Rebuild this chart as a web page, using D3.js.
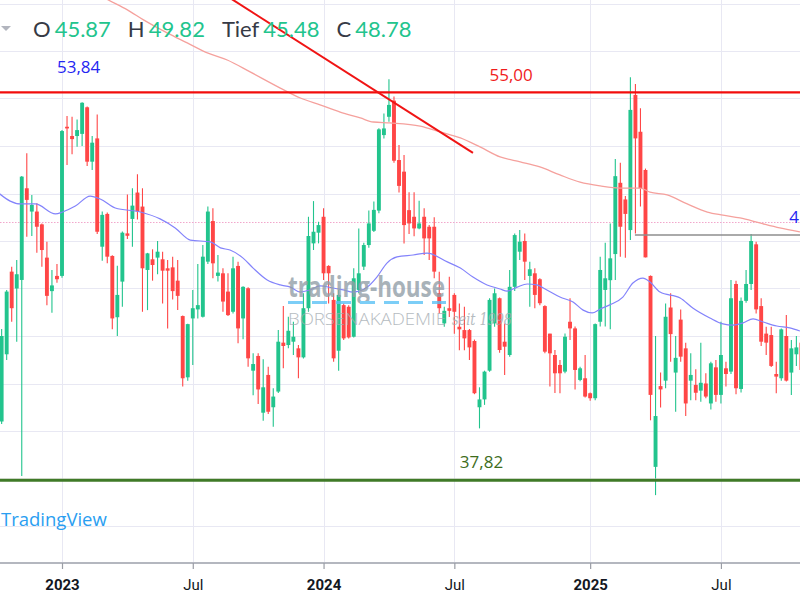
<!DOCTYPE html>
<html>
<head>
<meta charset="utf-8">
<script src="https://cdn.jsdelivr.net/npm/d3@7/dist/d3.min.js"></script>
<style>
html,body{margin:0;padding:0;background:#ffffff;overflow:hidden;}
svg{display:block;}
</style>
</head>
<body>
<svg id="chart" width="800" height="600"></svg>
<script>
// ---------------- data ----------------
const week0 = "2023-01-02";      // Monday of week index 0
const firstCandleWeek = -12;     // first visible weekly candle (2022-10-10)

const opens = [
40.40,43.23,46.71,46.00,46.36,50.22,49.24,49.24,48.70,47.30,
45.89,46.53,46.53,52.81,52.42,52.42,52.51,53.63,51.34,52.32,
47.76,49.14,47.37,44.79,46.29,48.32,48.93,50.04,49.45,46.78,
47.23,47.30,47.23,46.85,46.89,46.33,44.84,42.26,44.74,45.12,
44.81,47.13,48.84,46.53,46.64,45.87,45.02,46.95,44.74,46.01,
42.54,43.16,40.77,42.36,41.00,41.66,43.72,43.62,43.76,43.48,
43.10,45.17,47.90,48.35,49.02,46.95,45.52,43.38,45.30,45.23,
43.97,45.94,46.92,47.83,48.43,49.28,52.46,53.23,53.91,51.41,
50.92,49.30,49.02,48.53,49.02,48.60,48.60,45.80,44.53,45.17,
45.73,44.39,44.25,44.25,43.79,41.00,41.33,42.54,44.53,45.59,
43.76,43.20,46.07,47.55,48.00,46.53,46.64,46.39,45.26,44.10,
43.20,42.78,42.50,44.60,44.32,42.15,42.22,41.59,41.38,44.60,
45.94,46.35,47.45,50.45,49.75,48.46,54.15,52.60,50.99,46.53,
38.49,41.89,42.12,45.20,42.46,44.69,43.48,42.12,41.94,41.70,
42.00,41.16,42.68,41.52,42.64,42.50,46.19,41.77,45.48,46.19,
47.86,45.26,44.10,44.04,42.40,42.22,44.00,42.46,43.23,43.72];
const highs = [
44.30,45.94,46.92,47.20,50.74,51.69,49.94,49.59,48.74,47.97,
46.78,47.03,52.67,53.26,53.23,53.12,53.84,53.66,52.42,53.33,
49.24,49.20,47.40,46.96,48.40,49.96,50.22,50.81,50.22,47.50,
47.65,48.00,47.55,47.20,47.34,47.20,44.86,44.52,45.94,47.03,
47.83,49.45,49.38,47.41,46.85,46.64,47.34,47.13,46.10,46.05,
43.27,43.27,43.02,42.71,41.80,44.25,45.26,44.81,44.60,43.62,
45.80,49.02,49.68,48.81,49.38,46.98,45.80,45.94,45.37,45.30,
46.85,48.53,47.93,49.28,49.66,52.75,53.37,54.81,54.08,52.04,
51.62,50.05,50.05,49.69,49.38,48.67,49.00,46.71,45.23,46.50,
45.80,45.37,45.23,44.30,43.85,41.84,42.54,45.59,46.00,45.62,
44.53,46.78,48.32,48.46,48.32,47.13,46.85,46.43,45.30,44.10,
43.41,42.99,44.11,45.59,44.40,42.71,43.20,41.62,44.53,47.34,
47.93,48.74,51.45,51.30,49.90,54.89,54.61,53.59,51.05,46.55,
44.00,42.46,45.37,45.80,44.00,45.12,43.72,43.27,42.60,43.72,
42.43,42.92,42.99,44.60,42.92,46.36,46.33,45.62,46.78,48.29,
47.97,45.59,44.39,44.39,42.92,44.32,44.88,43.83,44.00,44.28];
const lows = [
40.30,42.99,44.60,43.76,38.11,48.18,48.21,47.51,46.92,45.30,
44.98,46.24,46.45,51.20,51.65,51.97,52.00,51.16,50.99,48.29,
47.17,47.06,44.28,44.00,45.23,48.08,47.76,48.91,45.02,45.09,
46.33,46.60,45.37,44.32,45.54,45.09,41.87,42.12,42.78,44.74,
44.78,47.03,46.43,46.29,45.02,44.84,44.95,43.69,43.86,42.71,
41.51,41.14,40.43,40.72,40.18,41.60,42.64,43.48,43.20,42.22,
43.05,45.02,47.62,47.90,46.36,45.37,42.92,42.54,43.83,43.90,
43.94,45.80,46.78,47.72,48.38,49.17,52.32,53.02,51.30,50.04,
47.90,48.30,48.20,48.50,47.41,47.20,46.43,44.95,44.39,44.80,
44.10,43.40,43.40,42.99,41.55,40.11,41.10,42.50,44.39,43.30,
42.36,43.13,45.90,47.20,46.36,45.23,45.17,45.30,43.27,41.87,
41.60,41.59,42.43,43.83,41.75,42.10,41.41,41.27,41.30,44.40,
44.40,44.28,46.36,47.34,47.30,48.04,48.32,49.45,47.31,40.45,
37.30,40.99,41.80,42.92,40.81,42.92,40.63,41.30,41.30,41.23,
41.38,40.91,41.23,41.16,41.87,42.40,41.55,41.62,45.40,45.94,
44.95,43.58,43.20,42.70,41.59,42.12,42.08,41.52,42.74,42.50];
const closes = [
44.00,45.87,45.17,46.60,50.71,49.73,49.52,48.60,47.62,45.69,
46.13,46.39,52.63,52.74,52.29,52.67,53.82,51.34,52.14,48.39,
49.10,47.34,44.74,45.73,48.35,48.22,49.49,49.24,46.85,47.48,
46.99,47.55,46.75,46.75,45.89,45.69,42.22,44.50,45.17,45.30,
47.34,49.24,47.06,46.67,45.45,44.88,46.85,44.32,46.07,43.06,
42.82,41.75,41.84,40.81,41.45,43.76,43.58,44.22,43.97,43.10,
45.17,48.21,48.39,48.67,46.64,46.64,43.06,45.73,43.90,43.94,
46.43,46.64,47.83,48.74,49.31,52.70,52.74,53.73,51.38,50.32,
48.67,48.74,48.53,48.74,48.11,48.11,46.71,45.17,45.06,45.06,
45.02,44.28,43.90,43.52,41.59,41.33,42.50,45.52,45.80,43.41,
43.55,46.07,48.25,47.97,47.13,46.81,45.73,45.38,43.34,43.27,
42.43,42.43,43.97,44.32,42.57,42.64,41.45,41.38,44.50,46.78,
46.43,47.27,50.73,48.60,49.14,53.52,52.32,50.22,47.31,41.52,
40.63,41.75,44.81,44.08,43.08,43.13,41.16,42.36,41.61,42.03,
41.45,42.85,41.52,43.20,42.40,45.59,41.80,45.48,46.19,48.00,
45.12,43.76,43.72,42.74,42.29,44.28,42.12,43.48,43.52,42.57];

// moving averages (week index, value)
const blueMaWeeks = [-12.6,-10.3,-8.3,-5.3,-1.3,0.1,2.65,5.6,7.6,10.6,15.6,19.5,22.5,25.5,29.5,31.5,33.4,36,38,40.8,
  43.4,45.4,47.4,49.3,51.3,53.9,55.9,57.9,60.7,62.6,64.6,66.6,69.8,72.6,76.6,79.2,81.7,84.5,87.1,88.5,
  90.5,92.5,94.4,96.4,99,101.6,103.6,105.4,107,108.9,111.5,113.5,115.5,116.9,118.9,122.9,125.4,128.8,131.4,133.4,
  135.4,137.4,139.4,142.1,144.7,146.7];
const blueMaValues = [50.02,49.68,49.56,49.56,49.14,49.22,49.47,49.89,49.77,49.39,49.22,48.93,48.55,48.04,47.96,47.71,47.62,47.28,46.86,46.36,
  46.15,46.06,45.85,45.94,46.11,46.02,45.94,45.85,46.06,46.48,47.07,47.33,47.41,47.49,47.12,46.86,46.48,46.15,45.98,45.89,
  46.06,46.19,46.15,45.94,45.64,45.43,45.09,44.97,45.14,45.31,45.64,46.23,46.44,46.27,45.85,45.60,45.18,44.76,44.51,44.46,
  44.55,44.72,44.59,44.42,44.34,44.21];
const redMaWeeks = [5.6,9.2,13.0,16.2,20.9,24.9,28.9,32.85,37.4,43.4,47.4,51.3,55.3,59.3,61.9,65.2,71.2,75.2,79.2,83.1,
  87.1,91.1,95.0,99.0,103.0,107.0,110.9,114.9,116.9,120.3,124.3,128.3,131.4,134.8,138.7,142.7,146.7];
const redMaValues = [58.57,58.15,57.73,57.31,56.76,56.34,55.92,55.62,55.12,54.44,54.02,53.73,53.43,53.18,53.01,52.97,52.84,52.59,52.34,51.96,
  51.54,51.33,51.12,50.78,50.48,50.32,50.23,50.23,50.06,49.94,49.56,49.22,49.09,48.97,48.76,48.55,48.38];

// drawings
const trendWeeks = [30, 81.7];
const trendValues = [58.69, 51.71];
const levelValues = [54.26, 37.92];          // red resistance, green support
const greyLevelStartWeek = 113.9;
const greyLevelValue = 48.25;
const lastPrice = 48.78;

const annotTexts  = ["53,84", "55,00", "37,82", "4"];
const annotWeeks  = [3.3, 89.3, 83.4, 144.6];
const annotValues = [55.07, 54.74, 38.44, 48.76];

// axes
const gridValues = [36,38,40,42,44,46,48,50,52,54,56,58];
const tickDates  = ["2023-01-02","2023-07-03","2024-01-01","2024-07-01","2025-01-06","2025-07-07"];
const tickLabels = ["2023","Jul","2024","Jul","2025","Jul"];

// header legend
const headerKeys   = ["O","H","Tief","C"];
const headerValues = ["45.87","49.82","45.48","48.78"];

// ---------------- drawing ----------------
const W = 800, H = 600, plotBottom = 563;
const parse = d3.utcParse("%Y-%m-%d");
const t0 = parse(week0);
const wk = k => new Date(t0.getTime() + k * 7 * 864e5);
const x = d3.scaleUtc().domain([t0, parse("2025-07-07")]).range([62, 62 + 131 * 5.03]);
const y = d3.scaleLinear().domain([36, 58]).range([526, 3.5]);
const X = k => x(wk(k));

const UP = "#22c48d", DOWN = "#ff4646";

const svg = d3.select("#chart");
svg.append("rect").attr("width", W).attr("height", H).attr("fill", "#ffffff");
svg.append("defs").append("clipPath").attr("id", "plotClip")
  .append("rect").attr("x", 0).attr("y", 0).attr("width", W).attr("height", plotBottom);

// grid
const grid = svg.append("g").attr("stroke", "#e8e8f3").attr("stroke-width", 1);
grid.selectAll("line.h").data(gridValues).join("line").attr("class", "h")
  .attr("x1", 0).attr("x2", W)
  .attr("y1", d => Math.round(y(d)) + 0.5).attr("y2", d => Math.round(y(d)) + 0.5);
grid.selectAll("line.v").data(tickDates).join("line").attr("class", "v")
  .attr("y1", 0).attr("y2", plotBottom)
  .attr("x1", d => Math.round(x(parse(d))) + 0.5).attr("x2", d => Math.round(x(parse(d))) + 0.5);

const plot = svg.append("g").attr("clip-path", "url(#plotClip)");

// last price dotted line
plot.append("line").attr("x1", 0).attr("x2", W)
  .attr("y1", y(lastPrice)).attr("y2", y(lastPrice))
  .attr("stroke", "#f2a7cc").attr("stroke-width", 1.2).attr("stroke-dasharray", "1.5,1.5");

// candles
const candles = opens.map((o, i) => ({ k: firstCandleWeek + i, o, h: highs[i], l: lows[i], c: closes[i] }));
const cg = plot.append("g");
cg.selectAll("line").data(candles).join("line")
  .attr("x1", d => X(d.k)).attr("x2", d => X(d.k))
  .attr("y1", d => y(d.h)).attr("y2", d => y(d.l))
  .attr("stroke", d => d.c >= d.o ? UP : DOWN).attr("stroke-width", 1.1);
const bw = 3.9;
cg.selectAll("rect").data(candles).join("rect")
  .attr("x", d => X(d.k) - bw / 2).attr("width", bw)
  .attr("y", d => y(Math.max(d.o, d.c)))
  .attr("height", d => Math.max(1, y(Math.min(d.o, d.c)) - y(Math.max(d.o, d.c))))
  .attr("fill", d => d.c >= d.o ? UP : DOWN);

// moving averages
const maLine = d3.line().x(d => X(d[0])).y(d => y(d[1])).curve(d3.curveMonotoneX);
plot.append("path").datum(redMaWeeks.map((w, i) => [w, redMaValues[i]]))
  .attr("d", maLine).attr("fill", "none").attr("stroke", "#f5a19d").attr("stroke-width", 1.3);
plot.append("path").datum(blueMaWeeks.map((w, i) => [w, blueMaValues[i]]))
  .attr("d", maLine).attr("fill", "none").attr("stroke", "#8383fb").attr("stroke-width", 1.2);

// horizontal levels
plot.append("line").attr("x1", 0).attr("x2", W)
  .attr("y1", y(levelValues[0])).attr("y2", y(levelValues[0]))
  .attr("stroke", "#f20d0d").attr("stroke-width", 2.4);
plot.append("line").attr("x1", 0).attr("x2", W)
  .attr("y1", y(levelValues[1]) - 1.5).attr("y2", y(levelValues[1]) - 1.5)
  .attr("stroke", "#a9b99e").attr("stroke-width", 1);
plot.append("line").attr("x1", 0).attr("x2", W)
  .attr("y1", y(levelValues[1])).attr("y2", y(levelValues[1]))
  .attr("stroke", "#3f7a27").attr("stroke-width", 2.6);
plot.append("line").attr("x1", X(greyLevelStartWeek)).attr("x2", W)
  .attr("y1", y(greyLevelValue)).attr("y2", y(greyLevelValue))
  .attr("stroke", "#8e8e8e").attr("stroke-width", 1.4);

// trend line
plot.append("line")
  .attr("x1", X(trendWeeks[0])).attr("y1", y(trendValues[0]))
  .attr("x2", X(trendWeeks[1])).attr("y2", y(trendValues[1]))
  .attr("stroke", "#f01414").attr("stroke-width", 2);

// watermark
const wm = svg.append("g").attr("opacity", 0.8);
wm.append("text").attr("x", 288).attr("y", 297).text("trading-house")
  .attr("font-family", "Open Sans, sans-serif").attr("font-weight", 700).attr("font-size", 28)
  .attr("fill", "#939fa8").attr("textLength", 157).attr("lengthAdjust", "spacingAndGlyphs");
wm.append("line").attr("x1", 288).attr("x2", 446).attr("y1", 302.5).attr("y2", 302.5)
  .attr("stroke", "#5cc2f6").attr("stroke-width", 3).attr("stroke-dasharray", "15,9");
wm.append("text").attr("x", 288).attr("y", 325).text("BÖRSENAKADEMIE")
  .attr("font-family", "Open Sans, sans-serif").attr("font-weight", 300).attr("font-size", 17)
  .attr("fill", "#a3abb1").attr("textLength", 158).attr("lengthAdjust", "spacingAndGlyphs");
wm.append("text").attr("x", 452).attr("y", 325).text("seit 1998")
  .attr("font-family", "DejaVu Serif, serif").attr("font-style", "italic").attr("font-size", 17)
  .attr("fill", "#a3abb1").attr("textLength", 60).attr("lengthAdjust", "spacingAndGlyphs");

// annotations
const annotColors = ["#2525f2", "#f01c1c", "#3e6d1d", "#2525f2"];
const annotAnchor = ["middle", "middle", "middle", "start"];
svg.selectAll("text.annot").data(annotTexts).join("text").attr("class", "annot")
  .attr("x", (d, i) => X(annotWeeks[i])).attr("y", (d, i) => y(annotValues[i]))
  .attr("text-anchor", (d, i) => annotAnchor[i])
  .attr("font-family", "Open Sans, sans-serif").attr("font-size", 17)
  .attr("fill", (d, i) => annotColors[i]).text(d => d);

// TradingView logo text
svg.append("text").attr("x", 1).attr("y", 526).text("TradingView")
  .attr("font-family", "Open Sans, sans-serif").attr("font-size", 18.5).attr("font-weight", 500)
  .attr("fill", "#2a9ef1");

// x axis
svg.append("line").attr("x1", 0).attr("x2", W).attr("y1", plotBottom).attr("y2", plotBottom)
  .attr("stroke", "#b4b7bf").attr("stroke-width", 2);
const xAxis = d3.axisBottom(x).tickValues(tickDates.map(parse))
  .tickFormat((d, i) => tickLabels[i]).tickSizeInner(6).tickSizeOuter(0);
const ax = svg.append("g").attr("transform", `translate(0,${plotBottom})`).call(xAxis);
ax.select(".domain").remove();
ax.selectAll(".tick line").attr("stroke", "#9a9da5").attr("stroke-width", 1.2);
ax.selectAll(".tick text").attr("y", 16).attr("fill", "#131722")
  .attr("font-family", "Roboto, sans-serif").attr("font-size", 15)
  .attr("font-weight", (d, i) => tickLabels[i] === "Jul" ? 400 : 700);

// header legend
svg.append("path").attr("d", "M1,26 L11,26 L6,31 Z").attr("fill", "#b2b5be");
let cx = 33;
const hdr = svg.append("g").attr("font-family", "Lato, sans-serif").attr("font-size", 22);
headerKeys.forEach((k, i) => {
  const kt = hdr.append("text").attr("x", cx).attr("y", 37).attr("fill", "#363a45").text(k);
  cx += kt.node().getComputedTextLength() + 4;
  const vt = hdr.append("text").attr("x", cx).attr("y", 37).attr("fill", UP).text(headerValues[i]);
  cx += vt.node().getComputedTextLength() + 17;
});
</script>
</body>
</html>
